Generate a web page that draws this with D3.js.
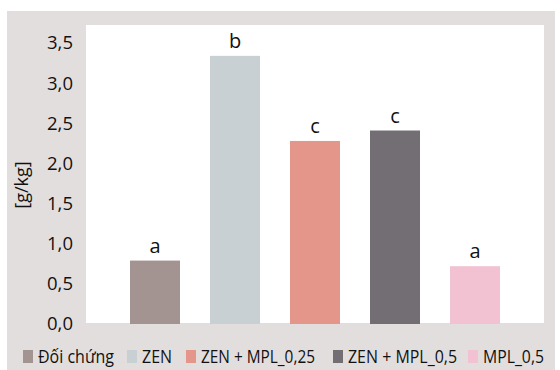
<!DOCTYPE html>
<html>
<head>
<meta charset="utf-8">
<script src="https://cdn.jsdelivr.net/npm/d3@7"></script>
<style>
  html, body { margin: 0; padding: 0; background: #ffffff; }
  svg { display: block; }
  text { font-family: "Open Sans", sans-serif; fill: #111; }
</style>
</head>
<body>
<svg id="chart" width="560" height="370"></svg>
<script>
const categories = ["Đối chứng", "ZEN", "ZEN + MPL_0,25", "ZEN + MPL_0,5", "MPL_0,5"];
const values = [0.79, 3.34, 2.28, 2.41, 0.72];
const letters = ["a", "b", "c", "c", "a"];
const colors = ["#a39492", "#c8d0d3", "#e5968b", "#736d74", "#f2c1d2"];
const yTicks = [0, 0.5, 1.0, 1.5, 2.0, 2.5, 3.0, 3.5];
const yLabel = "[g/kg]";

const svg = d3.select("#chart");
const fmt = v => d3.format(".1f")(v).replace(".", ",");

// outer panel
svg.append("rect").attr("x", 7).attr("y", 11).attr("width", 548).attr("height", 370)
  .attr("fill", "#e3dede");
// plot area
const plot = { left: 86, right: 544, top: 25, bottom: 323 };
svg.append("rect").attr("x", plot.left).attr("y", plot.top)
  .attr("width", plot.right - plot.left).attr("height", plot.bottom - plot.top)
  .attr("fill", "#ffffff");

const x = d3.scaleBand().domain(categories).range([115, 515]).paddingInner(0.375).paddingOuter(0.1875);
const y = d3.scaleLinear().domain([0, 3.5]).range([324, 43]);

// y axis
const yAxis = svg.append("g").attr("transform", `translate(${plot.left},0)`)
  .call(d3.axisLeft(y).tickValues(yTicks).tickFormat(fmt).tickSize(0).tickPadding(13));
yAxis.select(".domain").remove();
yAxis.selectAll("text").style("font-family", "'Open Sans', sans-serif")
  .style("font-size", "18.5px").attr("fill", "#111");

svg.append("text")
  .attr("transform", `translate(28,185) rotate(-90)`)
  .attr("text-anchor", "middle")
  .style("font-size", "18px")
  .text(yLabel);

// bars
svg.append("g").selectAll("rect").data(categories).join("rect")
  .attr("x", d => x(d))
  .attr("width", x.bandwidth())
  .attr("y", (d, i) => y(values[i]))
  .attr("height", (d, i) => y(0) - y(values[i]))
  .attr("fill", (d, i) => colors[i]);

// letters
svg.append("g").selectAll("text").data(categories).join("text")
  .attr("x", d => x(d) + x.bandwidth() / 2)
  .attr("y", (d, i) => y(values[i]) - 8)
  .attr("text-anchor", "middle")
  .style("font-size", "20px")
  .text((d, i) => letters[i]);

// legend
const legendX = [23, 127, 186, 333, 468];
const legendW = [76, 30, 114, 109, 61];
const lg = svg.append("g");
categories.forEach((c, i) => {
  lg.append("rect").attr("x", legendX[i]).attr("y", 350).attr("width", 10).attr("height", 13)
    .attr("fill", colors[i]);
  lg.append("text").attr("x", legendX[i] + 15).attr("y", 363)
    .style("font-size", "18px")
    .attr("textLength", legendW[i]).attr("lengthAdjust", "spacingAndGlyphs")
    .text(c);
});
</script>
</body>
</html>
